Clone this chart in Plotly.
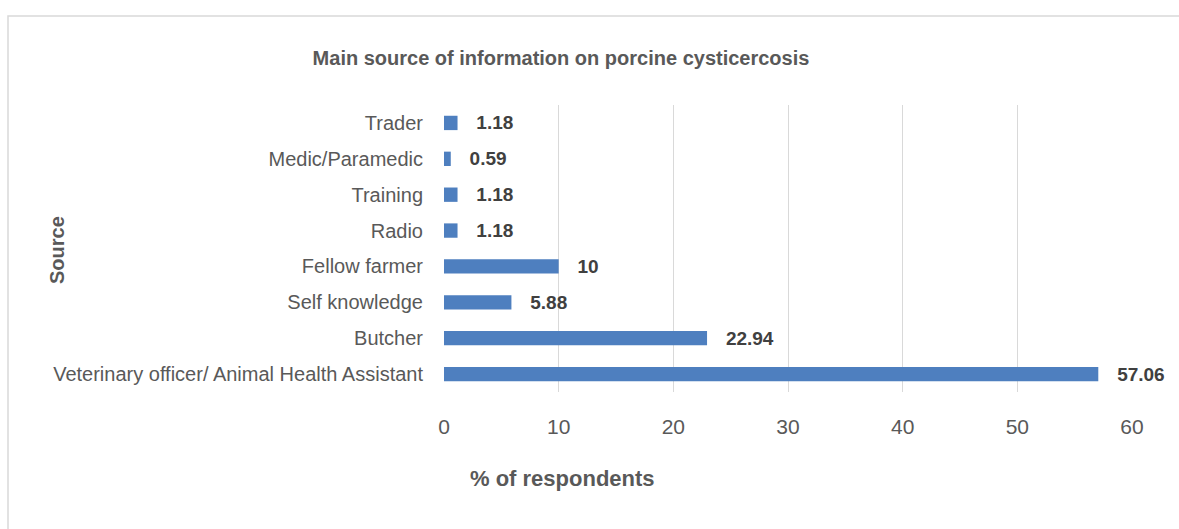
import plotly.graph_objects as go

categories = ["Veterinary officer/ Animal Health Assistant", "Butcher", "Self knowledge",
              "Fellow farmer", "Radio", "Training", "Medic/Paramedic", "Trader"]
values = [57.06, 22.94, 5.88, 10, 1.18, 1.18, 0.59, 1.18]
x_ticks = [0, 10, 20, 30, 40, 50, 60]

W, H = 1179, 529
L, R, T, B = 444, 1132, 105, 392

labels = ["   " + f"{v:g}" for v in values]

fig = go.Figure(go.Bar(
    y=categories, x=values, orientation="h",
    marker=dict(color="#4E7FBF", line=dict(width=0)),
    text=labels, textposition="outside", cliponaxis=False, constraintext="none",
    textfont=dict(family="Liberation Sans", size=19, color="#404040", weight="bold"),
))

pw = R - L
ph = B - T

def px(x):
    return (x - L) / pw

def py(y):
    return (B - y) / ph

fig.update_layout(
    width=W, height=H,
    margin=dict(l=L, r=W - R, t=T, b=H - B, autoexpand=False),
    paper_bgcolor="white", plot_bgcolor="white",
    bargap=0.6, showlegend=False,
    font=dict(family="Liberation Sans", color="#595959"),
    title=dict(text="<b>Main source of information on porcine cysticercosis</b>",
               xref="paper", x=px(561), xanchor="center",
               yref="container", y=1 - 58 / H, yanchor="middle",
               font=dict(size=20, color="#595959")),
    xaxis=dict(range=[0, 60], tickvals=x_ticks, showgrid=True, gridcolor="#D9D9D9",
               gridwidth=1, zeroline=False, showline=False, ticks="",
               tickfont=dict(size=21, color="#595959"), ticklabelstandoff=20),
    yaxis=dict(showgrid=False, zeroline=False, showline=False, ticks="",
               tickfont=dict(size=20, color="#595959"), ticklabelstandoff=20),
    annotations=[
        dict(text="<b>% of respondents</b>", xref="paper", yref="paper",
             x=px(562), y=py(478), xanchor="center", yanchor="middle",
             showarrow=False, font=dict(size=22, color="#595959")),
        dict(text="<b>Source</b>", xref="paper", yref="paper",
             x=px(57), y=py(250), xanchor="center", yanchor="middle", textangle=-90,
             showarrow=False, font=dict(size=20, color="#595959")),
    ],
    shapes=[dict(type="rect", xref="paper", yref="paper",
                 x0=px(8), x1=px(1190), y0=py(540), y1=py(16),
                 line=dict(color="#D9D9D9", width=1.5), layer="below")],
)

fig.write_html("out.html", config={"displayModeBar": False},
               post_script="document.body.style.margin='0';")
